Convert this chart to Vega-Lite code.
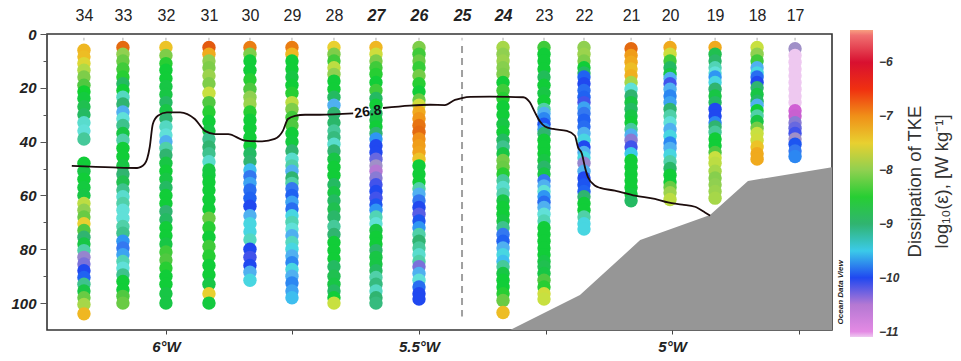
{
  "$schema": "https://vega.github.io/schema/vega-lite/v6.json",
  "width": 785,
  "height": 296,
  "autosize": {"type": "none"},
  "padding": {"left": 47, "top": 34, "right": 129, "bottom": 31},
  "background": "white",
  "config": {
    "view": {"stroke": "#333333", "strokeWidth": 1.6},
    "font": "Liberation Sans",
    "axis": {"grid": false, "domain": false}
  },
  "datasets": {
    "stations": [
      {"st": 34, "lon": -6.162}, {"st": 33, "lon": -6.085}, {"st": 32, "lon": -6.0},
      {"st": 31, "lon": -5.915}, {"st": 30, "lon": -5.834}, {"st": 29, "lon": -5.751},
      {"st": 28, "lon": -5.668}, {"st": 27, "lon": -5.585}, {"st": 26, "lon": -5.5},
      {"st": 25, "lon": -5.415}, {"st": 24, "lon": -5.334}, {"st": 23, "lon": -5.253},
      {"st": 22, "lon": -5.174}, {"st": 21, "lon": -5.081}, {"st": 20, "lon": -5.004},
      {"st": 19, "lon": -4.915}, {"st": 18, "lon": -4.832}, {"st": 17, "lon": -4.757}
    ],
    "casts": [
      {"st":34,"d":6,"e":-7.3},{"st":34,"d":8.5,"e":-7.35},{"st":34,"d":11,"e":-7.6},{"st":34,"d":13.5,"e":-7.85},{"st":34,"d":16,"e":-8.1},{"st":34,"d":19,"e":-8.3},{"st":34,"d":21.5,"e":-8.55},{"st":34,"d":24,"e":-8.65},{"st":34,"d":27,"e":-8.8},{"st":34,"d":30,"e":-8.9},{"st":34,"d":33,"e":-9.35},{"st":34,"d":36,"e":-9.4},{"st":34,"d":39,"e":-9.15},
      {"st":34,"d":48,"e":-8.6},{"st":34,"d":51,"e":-8.7},{"st":34,"d":54,"e":-8.6},{"st":34,"d":57,"e":-8.65},{"st":34,"d":60,"e":-8.7},{"st":34,"d":63,"e":-7.8},{"st":34,"d":65.5,"e":-8.0},{"st":34,"d":68,"e":-8.2},{"st":34,"d":70.5,"e":-7.5},{"st":34,"d":73,"e":-8.3},{"st":34,"d":75.5,"e":-9.0},{"st":34,"d":78,"e":-8.7},{"st":34,"d":80.5,"e":-9.2},{"st":34,"d":83,"e":-10.3},{"st":34,"d":85.5,"e":-10.2},{"st":34,"d":88,"e":-10.0},{"st":34,"d":90.5,"e":-9.9},{"st":34,"d":93,"e":-9.1},{"st":34,"d":95.5,"e":-8.7},{"st":34,"d":98,"e":-8.2},{"st":34,"d":100.5,"e":-7.9},{"st":34,"d":104,"e":-7.3},
      {"st":33,"d":5,"e":-6.8},{"st":33,"d":7.5,"e":-8.0},{"st":33,"d":10,"e":-8.2},{"st":33,"d":13,"e":-8.4},{"st":33,"d":16,"e":-8.5},{"st":33,"d":18.5,"e":-8.9},{"st":33,"d":21,"e":-8.6},{"st":33,"d":23.5,"e":-9.3},{"st":33,"d":26,"e":-9.0},{"st":33,"d":29,"e":-9.6},{"st":33,"d":31.5,"e":-9.4},{"st":33,"d":34,"e":-9.1},{"st":33,"d":37,"e":-8.7},{"st":33,"d":39.5,"e":-9.2},{"st":33,"d":42.5,"e":-8.6},{"st":33,"d":45.5,"e":-8.6},{"st":33,"d":49,"e":-8.7},{"st":33,"d":52,"e":-9.0},{"st":33,"d":55,"e":-8.8},{"st":33,"d":58,"e":-9.1},{"st":33,"d":60.5,"e":-9.35},{"st":33,"d":63,"e":-9.2},{"st":33,"d":65.5,"e":-9.4},{"st":33,"d":68.5,"e":-9.4},{"st":33,"d":71.5,"e":-9.2},{"st":33,"d":74,"e":-9.1},{"st":33,"d":77,"e":-9.7},{"st":33,"d":79.5,"e":-9.8},{"st":33,"d":82,"e":-9.65},{"st":33,"d":84.5,"e":-9.25},{"st":33,"d":87,"e":-9.4},{"st":33,"d":89.5,"e":-9.1},{"st":33,"d":92,"e":-8.6},{"st":33,"d":95,"e":-8.6},{"st":33,"d":97.5,"e":-8.3},{"st":33,"d":100,"e":-8.2},
      {"st":32,"d":5,"e":-7.4},{"st":32,"d":8,"e":-8.1},{"st":32,"d":11,"e":-8.5},{"st":32,"d":13.5,"e":-8.6},{"st":32,"d":16.5,"e":-8.6},{"st":32,"d":19.5,"e":-8.7},{"st":32,"d":22.5,"e":-8.7},{"st":32,"d":25.5,"e":-8.9},{"st":32,"d":28.5,"e":-8.7},{"st":32,"d":31.5,"e":-9.0},{"st":32,"d":34.5,"e":-9.3},{"st":32,"d":37.5,"e":-9.4},{"st":32,"d":40,"e":-9.6},{"st":32,"d":42.5,"e":-9.2},{"st":32,"d":45,"e":-9.0},{"st":32,"d":48,"e":-8.7},{"st":32,"d":51,"e":-8.6},{"st":32,"d":54,"e":-8.7},{"st":32,"d":57,"e":-8.9},{"st":32,"d":60,"e":-8.6},{"st":32,"d":63,"e":-8.6},{"st":32,"d":66,"e":-9.0},{"st":32,"d":69,"e":-8.9},{"st":32,"d":72,"e":-8.6},{"st":32,"d":75,"e":-8.6},{"st":32,"d":78,"e":-8.7},{"st":32,"d":81,"e":-8.4},{"st":32,"d":84,"e":-8.3},{"st":32,"d":87,"e":-8.5},{"st":32,"d":90,"e":-8.6},{"st":32,"d":93,"e":-8.6},{"st":32,"d":96.5,"e":-8.7},{"st":32,"d":100,"e":-8.7},
      {"st":31,"d":5,"e":-6.7},{"st":31,"d":7.5,"e":-7.2},{"st":31,"d":10,"e":-8.0},{"st":31,"d":12.5,"e":-8.1},{"st":31,"d":15.5,"e":-7.95},{"st":31,"d":18.5,"e":-8.1},{"st":31,"d":22,"e":-7.75},{"st":31,"d":25.5,"e":-8.3},{"st":31,"d":29,"e":-8.5},{"st":31,"d":32.5,"e":-8.6},{"st":31,"d":36,"e":-8.7},{"st":31,"d":39,"e":-9.1},{"st":31,"d":42,"e":-9.0},{"st":31,"d":44.5,"e":-9.1},{"st":31,"d":47.5,"e":-9.35},{"st":31,"d":50.5,"e":-8.7},{"st":31,"d":52.5,"e":-8.65},{"st":31,"d":55,"e":-8.6},{"st":31,"d":58,"e":-8.6},{"st":31,"d":61.5,"e":-8.6},{"st":31,"d":65,"e":-8.6},{"st":31,"d":68.5,"e":-8.2},{"st":31,"d":72,"e":-8.5},{"st":31,"d":75.5,"e":-8.6},{"st":31,"d":79,"e":-8.4},{"st":31,"d":82.5,"e":-8.5},{"st":31,"d":86,"e":-8.6},{"st":31,"d":89.5,"e":-8.6},{"st":31,"d":93,"e":-8.7},{"st":31,"d":96.5,"e":-7.5},{"st":31,"d":100,"e":-8.65},
      {"st":30,"d":5,"e":-6.9},{"st":30,"d":7.5,"e":-8.1},{"st":30,"d":10,"e":-8.6},{"st":30,"d":13.5,"e":-8.6},{"st":30,"d":17,"e":-8.5},{"st":30,"d":20.5,"e":-8.3},{"st":30,"d":23.5,"e":-8.0},{"st":30,"d":26,"e":-7.95},{"st":30,"d":29,"e":-8.5},{"st":30,"d":32,"e":-8.6},{"st":30,"d":35,"e":-8.6},{"st":30,"d":38.5,"e":-8.6},{"st":30,"d":41.5,"e":-8.6},{"st":30,"d":44.5,"e":-8.9},{"st":30,"d":47.5,"e":-9.0},{"st":30,"d":50.5,"e":-9.55},{"st":30,"d":53,"e":-9.8},{"st":30,"d":55.5,"e":-9.65},{"st":30,"d":58,"e":-9.85},{"st":30,"d":61,"e":-9.9},{"st":30,"d":64,"e":-10.0},{"st":30,"d":67.5,"e":-9.6},{"st":30,"d":70.5,"e":-9.45},{"st":30,"d":73.5,"e":-9.45},{"st":30,"d":76.5,"e":-9.3},{"st":30,"d":80,"e":-10.0},{"st":30,"d":83,"e":-10.05},{"st":30,"d":86,"e":-10.0},{"st":30,"d":88.5,"e":-9.6},{"st":30,"d":91.5,"e":-9.45},
      {"st":29,"d":5,"e":-6.9},{"st":29,"d":7.5,"e":-7.3},{"st":29,"d":10,"e":-8.6},{"st":29,"d":13,"e":-8.6},{"st":29,"d":16,"e":-8.7},{"st":29,"d":19,"e":-8.6},{"st":29,"d":22,"e":-8.5},{"st":29,"d":25.5,"e":-7.8},{"st":29,"d":28,"e":-8.1},{"st":29,"d":31,"e":-8.4},{"st":29,"d":34,"e":-8.3},{"st":29,"d":37,"e":-8.6},{"st":29,"d":40,"e":-8.65},{"st":29,"d":43.5,"e":-9.0},{"st":29,"d":46.5,"e":-9.35},{"st":29,"d":49,"e":-9.2},{"st":29,"d":51,"e":-9.6},{"st":29,"d":53.5,"e":-9.0},{"st":29,"d":55.5,"e":-9.2},{"st":29,"d":57.5,"e":-9.8},{"st":29,"d":60,"e":-9.9},{"st":29,"d":62.5,"e":-9.65},{"st":29,"d":65,"e":-9.85},{"st":29,"d":67.5,"e":-9.45},{"st":29,"d":70,"e":-9.25},{"st":29,"d":72.5,"e":-9.4},{"st":29,"d":75,"e":-9.6},{"st":29,"d":77.5,"e":-9.3},{"st":29,"d":80,"e":-9.45},{"st":29,"d":82.5,"e":-9.6},{"st":29,"d":85,"e":-9.75},{"st":29,"d":87.5,"e":-9.45},{"st":29,"d":90,"e":-9.6},{"st":29,"d":92.5,"e":-9.75},{"st":29,"d":95.5,"e":-9.65},{"st":29,"d":98,"e":-9.55},
      {"st":28,"d":5,"e":-7.5},{"st":28,"d":7.5,"e":-8.1},{"st":28,"d":10,"e":-8.4},{"st":28,"d":12.5,"e":-7.8},{"st":28,"d":15,"e":-8.0},{"st":28,"d":17.5,"e":-8.6},{"st":28,"d":20.5,"e":-8.6},{"st":28,"d":23.5,"e":-8.9},{"st":28,"d":26.5,"e":-9.6},{"st":28,"d":29.5,"e":-9.0},{"st":28,"d":33,"e":-8.95},{"st":28,"d":36,"e":-9.15},{"st":28,"d":38.5,"e":-9.05},{"st":28,"d":41,"e":-9.35},{"st":28,"d":43.5,"e":-9.0},{"st":28,"d":46.5,"e":-8.7},{"st":28,"d":49.5,"e":-8.6},{"st":28,"d":52.5,"e":-8.6},{"st":28,"d":56,"e":-8.9},{"st":28,"d":59,"e":-8.7},{"st":28,"d":62,"e":-8.9},{"st":28,"d":65,"e":-8.8},{"st":28,"d":68,"e":-8.95},{"st":28,"d":71.5,"e":-9.15},{"st":28,"d":74.5,"e":-9.0},{"st":28,"d":77.5,"e":-8.6},{"st":28,"d":80.5,"e":-8.6},{"st":28,"d":83.5,"e":-8.6},{"st":28,"d":86.5,"e":-8.9},{"st":28,"d":90,"e":-8.8},{"st":28,"d":93,"e":-8.7},{"st":28,"d":95.5,"e":-8.9},{"st":28,"d":98,"e":-8.6},{"st":28,"d":100,"e":-7.75},
      {"st":27,"d":5,"e":-7.3},{"st":27,"d":7.5,"e":-7.7},{"st":27,"d":10,"e":-8.1},{"st":27,"d":12.5,"e":-8.4},{"st":27,"d":15,"e":-8.5},{"st":27,"d":18,"e":-8.6},{"st":27,"d":21,"e":-8.4},{"st":27,"d":24,"e":-8.9},{"st":27,"d":26.5,"e":-8.6},{"st":27,"d":29.5,"e":-8.9},{"st":27,"d":32,"e":-8.7},{"st":27,"d":34.5,"e":-8.6},{"st":27,"d":37,"e":-9.0},{"st":27,"d":39,"e":-9.7},{"st":27,"d":41.5,"e":-10.0},{"st":27,"d":44,"e":-10.0},{"st":27,"d":46.5,"e":-10.15},{"st":27,"d":49,"e":-10.35},{"st":27,"d":51,"e":-10.5},{"st":27,"d":53.5,"e":-10.25},{"st":27,"d":56,"e":-10.05},{"st":27,"d":58.5,"e":-10.0},{"st":27,"d":61,"e":-10.05},{"st":27,"d":63.5,"e":-9.95},{"st":27,"d":65.5,"e":-9.7},{"st":27,"d":68,"e":-9.25},{"st":27,"d":70.5,"e":-9.4},{"st":27,"d":73,"e":-8.7},{"st":27,"d":75.5,"e":-8.6},{"st":27,"d":78,"e":-8.6},{"st":27,"d":80.5,"e":-8.95},{"st":27,"d":83,"e":-8.7},{"st":27,"d":85.5,"e":-8.7},{"st":27,"d":88,"e":-8.9},{"st":27,"d":90.5,"e":-9.2},{"st":27,"d":93,"e":-9.05},{"st":27,"d":95.5,"e":-9.3},{"st":27,"d":98,"e":-9.0},{"st":27,"d":100,"e":-9.05},
      {"st":26,"d":5,"e":-8.1},{"st":26,"d":7.5,"e":-8.4},{"st":26,"d":10,"e":-8.2},{"st":26,"d":12.5,"e":-8.45},{"st":26,"d":15.5,"e":-8.15},{"st":26,"d":18.5,"e":-8.5},{"st":26,"d":21.5,"e":-8.6},{"st":26,"d":24.5,"e":-8.2},{"st":26,"d":26.5,"e":-7.7},{"st":26,"d":29,"e":-7.2},{"st":26,"d":31.5,"e":-7.05},{"st":26,"d":34,"e":-6.85},{"st":26,"d":36.5,"e":-6.8},{"st":26,"d":39,"e":-7.0},{"st":26,"d":41.5,"e":-7.1},{"st":26,"d":44,"e":-7.15},{"st":26,"d":46.5,"e":-7.4},{"st":26,"d":49,"e":-8.6},{"st":26,"d":52,"e":-8.6},{"st":26,"d":55,"e":-8.6},{"st":26,"d":57.5,"e":-9.2},{"st":26,"d":59.5,"e":-9.6},{"st":26,"d":62,"e":-9.8},{"st":26,"d":64.5,"e":-10.0},{"st":26,"d":67,"e":-10.1},{"st":26,"d":69.5,"e":-9.95},{"st":26,"d":72,"e":-9.7},{"st":26,"d":74.5,"e":-9.2},{"st":26,"d":77,"e":-9.0},{"st":26,"d":79.5,"e":-9.15},{"st":26,"d":82,"e":-9.35},{"st":26,"d":84.5,"e":-9.2},{"st":26,"d":86.5,"e":-10.2},{"st":26,"d":89,"e":-9.6},{"st":26,"d":91.5,"e":-9.4},{"st":26,"d":94,"e":-9.85},{"st":26,"d":96.5,"e":-10.0},{"st":26,"d":98.5,"e":-10.0},
      {"st":24,"d":5,"e":-7.9},{"st":24,"d":7.5,"e":-8.0},{"st":24,"d":10,"e":-7.95},{"st":24,"d":12.5,"e":-8.05},{"st":24,"d":15,"e":-8.1},{"st":24,"d":18,"e":-8.6},{"st":24,"d":21,"e":-8.4},{"st":24,"d":24,"e":-8.5},{"st":24,"d":27,"e":-8.6},{"st":24,"d":30,"e":-8.6},{"st":24,"d":33.5,"e":-8.7},{"st":24,"d":36.5,"e":-8.6},{"st":24,"d":39.5,"e":-8.9},{"st":24,"d":42,"e":-9.1},{"st":24,"d":44.5,"e":-8.7},{"st":24,"d":47,"e":-8.15},{"st":24,"d":49.5,"e":-8.2},{"st":24,"d":52,"e":-8.5},{"st":24,"d":54.5,"e":-9.15},{"st":24,"d":57,"e":-9.35},{"st":24,"d":59.5,"e":-9.2},{"st":24,"d":62,"e":-8.7},{"st":24,"d":64.5,"e":-8.6},{"st":24,"d":67,"e":-8.6},{"st":24,"d":69.5,"e":-8.7},{"st":24,"d":72,"e":-9.1},{"st":24,"d":74.5,"e":-9.8},{"st":24,"d":77,"e":-9.9},{"st":24,"d":79.5,"e":-9.6},{"st":24,"d":82,"e":-9.45},{"st":24,"d":84.5,"e":-9.55},{"st":24,"d":86.5,"e":-9.15},{"st":24,"d":89,"e":-8.7},{"st":24,"d":91.5,"e":-8.6},{"st":24,"d":94,"e":-8.6},{"st":24,"d":96.5,"e":-8.5},{"st":24,"d":99,"e":-8.2},{"st":24,"d":103.5,"e":-7.35},
      {"st":23,"d":5,"e":-8.4},{"st":23,"d":7.5,"e":-8.6},{"st":23,"d":10,"e":-8.6},{"st":23,"d":13,"e":-8.6},{"st":23,"d":16,"e":-8.85},{"st":23,"d":19,"e":-8.6},{"st":23,"d":22,"e":-8.7},{"st":23,"d":25,"e":-8.6},{"st":23,"d":28,"e":-9.2},{"st":23,"d":29.5,"e":-9.6},{"st":23,"d":31.5,"e":-9.75},{"st":23,"d":33.5,"e":-9.95},{"st":23,"d":35.5,"e":-9.7},{"st":23,"d":37,"e":-9.0},{"st":23,"d":39.5,"e":-8.6},{"st":23,"d":42,"e":-8.6},{"st":23,"d":44.5,"e":-8.6},{"st":23,"d":47,"e":-8.7},{"st":23,"d":49.5,"e":-8.95},{"st":23,"d":52,"e":-8.7},{"st":23,"d":54.5,"e":-9.8},{"st":23,"d":56.5,"e":-9.6},{"st":23,"d":58.5,"e":-9.4},{"st":23,"d":60.5,"e":-9.7},{"st":23,"d":62.5,"e":-9.85},{"st":23,"d":64.5,"e":-9.6},{"st":23,"d":67,"e":-9.4},{"st":23,"d":69.5,"e":-9.25},{"st":23,"d":72,"e":-8.6},{"st":23,"d":74.5,"e":-8.6},{"st":23,"d":77,"e":-8.6},{"st":23,"d":79.5,"e":-8.6},{"st":23,"d":82,"e":-8.6},{"st":23,"d":84.5,"e":-8.7},{"st":23,"d":86.5,"e":-8.8},{"st":23,"d":89,"e":-8.7},{"st":23,"d":91.5,"e":-8.3},{"st":23,"d":94,"e":-8.5},{"st":23,"d":96.5,"e":-7.7},{"st":23,"d":98.5,"e":-7.75},
      {"st":22,"d":5,"e":-8.0},{"st":22,"d":7.5,"e":-7.95},{"st":22,"d":10,"e":-8.1},{"st":22,"d":12.5,"e":-8.6},{"st":22,"d":14.5,"e":-8.9},{"st":22,"d":16,"e":-9.9},{"st":22,"d":18.5,"e":-10.0},{"st":22,"d":21,"e":-9.85},{"st":22,"d":23.5,"e":-9.9},{"st":22,"d":25.5,"e":-10.05},{"st":22,"d":27.5,"e":-9.65},{"st":22,"d":29.5,"e":-9.8},{"st":22,"d":32,"e":-9.9},{"st":22,"d":34.5,"e":-9.85},{"st":22,"d":37,"e":-9.6},{"st":22,"d":39.5,"e":-9.45},{"st":22,"d":42,"e":-10.0},{"st":22,"d":44,"e":-9.6},{"st":22,"d":46,"e":-9.45},{"st":22,"d":48,"e":-10.3},{"st":22,"d":51,"e":-9.6},{"st":22,"d":53.5,"e":-10.0},{"st":22,"d":56,"e":-9.95},{"st":22,"d":58.5,"e":-9.9},{"st":22,"d":60.5,"e":-9.0},{"st":22,"d":63,"e":-8.6},{"st":22,"d":65.5,"e":-8.6},{"st":22,"d":68,"e":-9.2},{"st":22,"d":70.5,"e":-9.45},{"st":22,"d":72.5,"e":-9.45},
      {"st":21,"d":5.5,"e":-6.8},{"st":21,"d":8,"e":-7.1},{"st":21,"d":10.5,"e":-7.2},{"st":21,"d":13,"e":-7.35},{"st":21,"d":15.5,"e":-7.25},{"st":21,"d":18,"e":-7.9},{"st":21,"d":20.5,"e":-9.4},{"st":21,"d":23,"e":-9.0},{"st":21,"d":25.5,"e":-8.7},{"st":21,"d":28,"e":-8.9},{"st":21,"d":30.5,"e":-8.7},{"st":21,"d":33,"e":-8.6},{"st":21,"d":35.5,"e":-9.15},{"st":21,"d":37.5,"e":-9.6},{"st":21,"d":39.5,"e":-10.25},{"st":21,"d":42,"e":-10.05},{"st":21,"d":44.5,"e":-9.5},{"st":21,"d":47,"e":-8.6},{"st":21,"d":49.5,"e":-8.6},{"st":21,"d":52,"e":-8.6},{"st":21,"d":54.5,"e":-8.6},{"st":21,"d":57,"e":-8.6},{"st":21,"d":59.5,"e":-8.65},{"st":21,"d":62,"e":-8.9},
      {"st":20,"d":5,"e":-7.2},{"st":20,"d":7.5,"e":-7.7},{"st":20,"d":10,"e":-8.4},{"st":20,"d":12.5,"e":-8.9},{"st":20,"d":15,"e":-8.7},{"st":20,"d":16.5,"e":-9.6},{"st":20,"d":18.5,"e":-10.05},{"st":20,"d":20.5,"e":-9.6},{"st":20,"d":23,"e":-9.75},{"st":20,"d":25.5,"e":-9.65},{"st":20,"d":28,"e":-9.0},{"st":20,"d":30.5,"e":-9.2},{"st":20,"d":33,"e":-9.4},{"st":20,"d":35.5,"e":-9.6},{"st":20,"d":38,"e":-9.45},{"st":20,"d":40.5,"e":-9.75},{"st":20,"d":42.5,"e":-9.6},{"st":20,"d":45,"e":-9.45},{"st":20,"d":47.5,"e":-9.2},{"st":20,"d":50,"e":-8.95},{"st":20,"d":52.5,"e":-8.6},{"st":20,"d":55,"e":-8.6},{"st":20,"d":57,"e":-8.2},{"st":20,"d":59,"e":-7.95},{"st":20,"d":61.5,"e":-7.8},
      {"st":19,"d":5,"e":-7.2},{"st":19,"d":7.5,"e":-8.8},{"st":19,"d":10,"e":-8.95},{"st":19,"d":12.5,"e":-9.25},{"st":19,"d":14.5,"e":-9.4},{"st":19,"d":16,"e":-9.7},{"st":19,"d":18,"e":-9.45},{"st":19,"d":20.5,"e":-9.0},{"st":19,"d":23,"e":-8.7},{"st":19,"d":25.5,"e":-8.9},{"st":19,"d":28,"e":-10.0},{"st":19,"d":30.5,"e":-10.0},{"st":19,"d":33,"e":-9.75},{"st":19,"d":34.5,"e":-9.0},{"st":19,"d":36.5,"e":-9.15},{"st":19,"d":39,"e":-8.6},{"st":19,"d":41.5,"e":-8.6},{"st":19,"d":44,"e":-8.3},{"st":19,"d":46,"e":-7.75},{"st":19,"d":48,"e":-7.8},{"st":19,"d":51,"e":-7.9},{"st":19,"d":53.5,"e":-8.05},{"st":19,"d":56,"e":-8.0},{"st":19,"d":58.5,"e":-7.95},{"st":19,"d":61,"e":-7.9},
      {"st":18,"d":5,"e":-7.75},{"st":18,"d":7.5,"e":-8.0},{"st":18,"d":10,"e":-8.4},{"st":18,"d":12.5,"e":-9.6},{"st":18,"d":14.5,"e":-9.45},{"st":18,"d":16,"e":-9.85},{"st":18,"d":18,"e":-10.0},{"st":18,"d":20,"e":-9.0},{"st":18,"d":22.5,"e":-8.7},{"st":18,"d":25,"e":-8.9},{"st":18,"d":26.5,"e":-9.6},{"st":18,"d":28.5,"e":-8.6},{"st":18,"d":30.5,"e":-9.2},{"st":18,"d":32.5,"e":-8.7},{"st":18,"d":35,"e":-8.15},{"st":18,"d":37,"e":-7.75},{"st":18,"d":39.5,"e":-7.7},{"st":18,"d":42,"e":-7.4},{"st":18,"d":44.5,"e":-7.2},{"st":18,"d":46.5,"e":-7.2},
      {"st":17,"d":5.5,"e":-10.35},{"st":17,"d":8,"e":-11.1},{"st":17,"d":10.5,"e":-11.1},{"st":17,"d":13,"e":-11.1},{"st":17,"d":15.5,"e":-11.1},{"st":17,"d":18,"e":-11.1},{"st":17,"d":20.5,"e":-11.1},{"st":17,"d":23,"e":-11.1},{"st":17,"d":25.5,"e":-11.1},{"st":17,"d":28.5,"e":-10.7},{"st":17,"d":30.5,"e":-10.6},{"st":17,"d":33,"e":-10.25},{"st":17,"d":35,"e":-10.15},{"st":17,"d":37,"e":-10.05},{"st":17,"d":39,"e":-10.35},{"st":17,"d":41,"e":-9.95},{"st":17,"d":43.5,"e":-9.8},{"st":17,"d":45.5,"e":-9.75}
    ],
    "isopycnal": [
      {"seg": 1, "lon": -6.186, "d": 49.0}, {"seg": 1, "lon": -6.105, "d": 49.6}, {"seg": 1, "lon": -6.057, "d": 49.8},
      {"seg": 1, "lon": -6.042, "d": 48.3}, {"seg": 1, "lon": -6.032, "d": 42.0}, {"seg": 1, "lon": -6.026, "d": 33.5},
      {"seg": 1, "lon": -6.016, "d": 30.4}, {"seg": 1, "lon": -5.998, "d": 29.1}, {"seg": 1, "lon": -5.972, "d": 29.1},
      {"seg": 1, "lon": -5.943, "d": 31.6}, {"seg": 1, "lon": -5.923, "d": 36.0}, {"seg": 1, "lon": -5.903, "d": 37.2},
      {"seg": 1, "lon": -5.877, "d": 37.2}, {"seg": 1, "lon": -5.844, "d": 39.6}, {"seg": 1, "lon": -5.810, "d": 39.9},
      {"seg": 1, "lon": -5.785, "d": 39.0}, {"seg": 1, "lon": -5.769, "d": 36.0}, {"seg": 1, "lon": -5.759, "d": 31.6},
      {"seg": 1, "lon": -5.745, "d": 30.4}, {"seg": 1, "lon": -5.725, "d": 30.0}, {"seg": 1, "lon": -5.696, "d": 30.0},
      {"seg": 1, "lon": -5.630, "d": 29.5},
      {"seg": 2, "lon": -5.571, "d": 27.5}, {"seg": 2, "lon": -5.518, "d": 26.6}, {"seg": 2, "lon": -5.478, "d": 26.3},
      {"seg": 2, "lon": -5.449, "d": 26.4}, {"seg": 2, "lon": -5.429, "d": 24.5}, {"seg": 2, "lon": -5.415, "d": 23.8},
      {"seg": 2, "lon": -5.399, "d": 23.4}, {"seg": 2, "lon": -5.360, "d": 23.3}, {"seg": 2, "lon": -5.294, "d": 23.5},
      {"seg": 2, "lon": -5.281, "d": 25.4}, {"seg": 2, "lon": -5.271, "d": 29.1}, {"seg": 2, "lon": -5.261, "d": 32.5},
      {"seg": 2, "lon": -5.251, "d": 34.4}, {"seg": 2, "lon": -5.235, "d": 35.3}, {"seg": 2, "lon": -5.208, "d": 36.0},
      {"seg": 2, "lon": -5.192, "d": 37.8}, {"seg": 2, "lon": -5.186, "d": 42.0}, {"seg": 2, "lon": -5.178, "d": 44.6},
      {"seg": 2, "lon": -5.172, "d": 49.6}, {"seg": 2, "lon": -5.166, "d": 53.3}, {"seg": 2, "lon": -5.152, "d": 56.4},
      {"seg": 2, "lon": -5.142, "d": 57.2}, {"seg": 2, "lon": -5.113, "d": 58.2}, {"seg": 2, "lon": -5.073, "d": 60.1},
      {"seg": 2, "lon": -5.034, "d": 61.3}, {"seg": 2, "lon": -5.008, "d": 62.6}, {"seg": 2, "lon": -4.980, "d": 63.4},
      {"seg": 2, "lon": -4.955, "d": 64.2}, {"seg": 2, "lon": -4.935, "d": 66.3}, {"seg": 2, "lon": -4.925, "d": 67.5}
    ],
    "bathymetry": [
      {"lon": -5.320, "d": 110}, {"lon": -5.182, "d": 97}, {"lon": -5.063, "d": 76.6},
      {"lon": -4.925, "d": 67.3}, {"lon": -4.850, "d": 54.6}, {"lon": -4.684, "d": 49.5}
    ],
    "divider": [
      {"lon": -5.415, "top": 4.5, "bottom": 105}
    ],
    "colorbarTitle": [
      {"lon": -4.520, "d": 54.8, "label": "Dissipation of TKE"},
      {"lon": -4.466, "d": 54.8, "label": "log₁₀(ε), [W kg⁻¹]"}
    ]
  },
  "layer": [
    {
      "data": {"name": "bathymetry"},
      "mark": {"type": "area", "color": "#969696", "interpolate": "linear"},
      "encoding": {
        "x": {
          "field": "lon", "type": "quantitative",
          "scale": {"domain": [-6.235, -4.684], "nice": false, "zero": false},
          "axis": {
            "orient": "bottom", "title": null,
            "values": [-6, -5.75, -5.5, -5.25, -5, -4.75],
            "labelExpr": "datum.value * 2 == round(datum.value * 2) ? abs(datum.value) + '°W' : ''",
            "ticks": true, "tickSize": 4, "tickColor": "#444444",
            "labelFont": "Liberation Sans", "labelFontSize": 15, "labelFontWeight": "bold",
            "labelFontStyle": "italic", "labelColor": "#222222", "labelPadding": 5,
            "labelOverlap": false
          }
        },
        "y": {
          "field": "d", "type": "quantitative",
          "scale": {"domain": [0, 110], "reverse": true, "nice": false, "zero": false},
          "axis": {
            "orient": "left", "title": null,
            "values": [0, 10, 20, 30, 40, 50, 60, 70, 80, 90, 100],
            "labelExpr": "datum.value % 20 == 0 ? datum.value + '' : ''",
            "ticks": true, "tickColor": "#555555",
            "tickSize": {"condition": {"test": "datum.value % 20 == 0", "value": 7}, "value": 4},
            "labelFont": "Liberation Sans", "labelFontSize": 15, "labelFontWeight": "bold",
            "labelFontStyle": "italic", "labelColor": "#222222", "labelPadding": 4,
            "labelOverlap": false
          }
        },
        "y2": {"datum": 110}
      }
    },
    {
      "data": {"name": "divider"},
      "mark": {"type": "rule", "color": "#a0a0a0", "strokeWidth": 2, "strokeDash": [7, 5]},
      "encoding": {
        "x": {"field": "lon", "type": "quantitative", "scale": {"domain": [-6.235, -4.684], "nice": false, "zero": false}, "axis": null},
        "y": {"field": "top", "type": "quantitative", "scale": {"domain": [0, 110], "reverse": true, "nice": false, "zero": false}, "axis": null},
        "y2": {"field": "bottom"}
      }
    },
    {
      "data": {"name": "stations"},
      "mark": {"type": "rule", "color": "#b0b0b0", "strokeWidth": 1},
      "encoding": {
        "x": {
          "field": "lon", "type": "quantitative",
          "scale": {"domain": [-6.235, -4.684], "nice": false, "zero": false},
          "axis": {
            "orient": "top", "title": null, "ticks": false, "domain": false,
            "values": [-6.162, -6.085, -6, -5.915, -5.834, -5.751, -5.668, -5.585, -5.5, -5.415, -5.334, -5.253, -5.174, -5.081, -5.004, -4.915, -4.832, -4.757],
            "labelExpr": "['34','33','32','31','30','29','28','27','26','25','24','23','22','21','20','19','18','17'][indexof([-6.162, -6.085, -6, -5.915, -5.834, -5.751, -5.668, -5.585, -5.5, -5.415, -5.334, -5.253, -5.174, -5.081, -5.004, -4.915, -4.832, -4.757], datum.value)]",
            "labelFont": "Liberation Sans", "labelFontSize": 16, "labelColor": "#222222",
            "labelFontWeight": {"condition": {"test": "datum.value > -5.6 && datum.value < -5.3", "value": "bold"}, "value": "normal"},
            "labelFontStyle": {"condition": {"test": "datum.value > -5.6 && datum.value < -5.3", "value": "italic"}, "value": "normal"},
            "labelPadding": 11, "labelOverlap": false, "labelBound": false
          }
        },
        "y": {"datum": 1.4, "type": "quantitative", "scale": {"domain": [0, 110], "reverse": true, "nice": false, "zero": false}, "axis": null},
        "y2": {"datum": 2.4}
      }
    },
    {
      "data": {"name": "casts"},
      "transform": [
        {"lookup": "st", "from": {"data": {"name": "stations"}, "key": "st", "fields": ["lon"]}}
      ],
      "mark": {"type": "circle", "size": 180, "opacity": 1},
      "encoding": {
        "x": {"field": "lon", "type": "quantitative", "scale": {"domain": [-6.235, -4.684], "nice": false, "zero": false}, "axis": null},
        "y": {"field": "d", "type": "quantitative", "scale": {"domain": [0, 110], "reverse": true, "nice": false, "zero": false}, "axis": null},
        "color": {
          "field": "e", "type": "quantitative",
          "scale": {
            "domain": [-11.1, -11.0, -10.8, -10.6, -10.35, -10.15, -10.0, -9.8, -9.6, -9.4, -9.2, -9.0, -8.8, -8.55, -8.3, -8.0, -7.75, -7.5, -7.25, -7.0, -6.75, -6.5, -6.25, -6.0, -5.75, -5.5, -5.4],
            "range": ["#eec8f0", "#e48ae4", "#d860d8", "#c860d0", "#a090c8", "#6868e0", "#2048f0", "#3478f0", "#50b0f0", "#60e0d8", "#50d0a8", "#30b470", "#20c050", "#10d030", "#50c840", "#90d050", "#c8e040", "#e8d030", "#f0b020", "#f09018", "#e06010", "#f03010", "#f02020", "#d81030", "#e83050", "#f07070", "#f8a080"]
          },
          "legend": {
            "orient": "none", "legendX": 803, "legendY": -4, "direction": "vertical",
            "gradientLength": 307, "gradientThickness": 23, "gradientStrokeWidth": 0,
            "values": [-11, -10, -9, -8, -7, -6],
            "labelFont": "Liberation Sans", "labelFontSize": 12, "labelFontWeight": "bold",
            "labelFontStyle": "italic", "labelColor": "#333333", "labelOffset": 6,
            "title": null
          }
        }
      }
    },
    {
      "data": {"name": "isopycnal"},
      "mark": {"type": "line", "color": "#1c0c0c", "strokeWidth": 1.8, "interpolate": "monotone"},
      "encoding": {
        "x": {"field": "lon", "type": "quantitative", "scale": {"domain": [-6.235, -4.684], "nice": false, "zero": false}, "axis": null},
        "y": {"field": "d", "type": "quantitative", "scale": {"domain": [0, 110], "reverse": true, "nice": false, "zero": false}, "axis": null},
        "detail": {"field": "seg", "type": "nominal"}
      }
    },
    {
      "data": {"values": [{"lon": -5.601, "d": 29.0, "label": "26.8"}]},
      "mark": {"type": "text", "angle": 352, "fontSize": 14, "fontWeight": "bold", "font": "Liberation Sans", "color": "#111111"},
      "encoding": {
        "x": {"field": "lon", "type": "quantitative", "scale": {"domain": [-6.235, -4.684], "nice": false, "zero": false}, "axis": null},
        "y": {"field": "d", "type": "quantitative", "scale": {"domain": [0, 110], "reverse": true, "nice": false, "zero": false}, "axis": null},
        "text": {"field": "label"}
      }
    },
    {
      "data": {"values": [{"lon": -4.666, "d": 96, "label": "Ocean Data View"}]},
      "mark": {"type": "text", "angle": 270, "fontSize": 8, "fontWeight": "bold", "fontStyle": "italic", "font": "Liberation Sans", "color": "#222222"},
      "encoding": {
        "x": {"field": "lon", "type": "quantitative", "scale": {"domain": [-6.235, -4.684], "nice": false, "zero": false}, "axis": null},
        "y": {"field": "d", "type": "quantitative", "scale": {"domain": [0, 110], "reverse": true, "nice": false, "zero": false}, "axis": null},
        "text": {"field": "label"}
      }
    },
    {
      "data": {"name": "colorbarTitle"},
      "mark": {"type": "text", "angle": 270, "align": "center", "baseline": "middle", "fontSize": 18.5, "font": "Liberation Sans", "color": "#333333"},
      "encoding": {
        "x": {"field": "lon", "type": "quantitative", "scale": {"domain": [-6.235, -4.684], "nice": false, "zero": false}, "axis": null},
        "y": {"field": "d", "type": "quantitative", "scale": {"domain": [0, 110], "reverse": true, "nice": false, "zero": false}, "axis": null},
        "text": {"field": "label"}
      }
    }
  ],
  "resolve": {"axis": {"x": "independent", "y": "independent"}}
}
